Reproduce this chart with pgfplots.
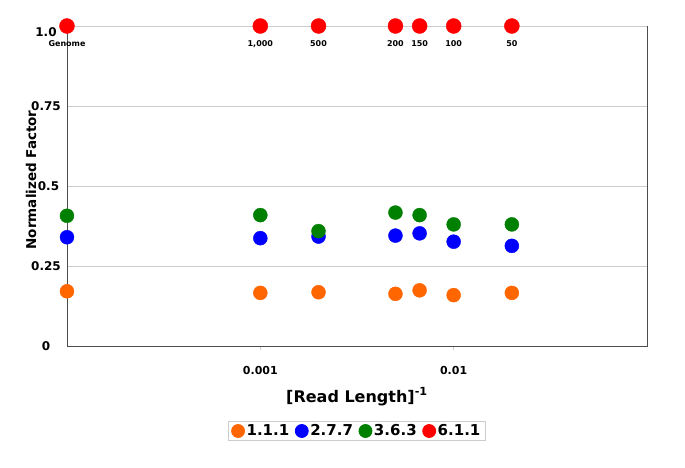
\documentclass[border=0pt]{standalone}
\usepackage{fontspec}
\setmainfont{DejaVu Sans}
\usepackage{pgfplots}
\pgfplotsset{compat=1.18}
\definecolor{cOr}{RGB}{255,102,0}
\definecolor{cBl}{RGB}{0,0,255}
\definecolor{cGr}{RGB}{0,128,0}
\definecolor{cRd}{RGB}{255,0,0}
\begin{document}
\begin{tikzpicture}[x=1pt,y=1pt]
\useasboundingbox (0,0) rectangle (685,467);
\begin{axis}[
  at={(67pt,121pt)}, anchor=south west,
  scale only axis, width=580pt, height=320pt,
  xmode=log, xmin=1e-4, xmax=1e-1, ymin=0, ymax=1,
  clip=false,
  xtick={0.001,0.01}, xticklabels={0.001,0.01},
  xminorticks=false,
  ytick={0,0.25,0.5,0.75}, yticklabels={0,0.25,\hspace{5pt}0.5,0.75},
  extra y ticks={1}, extra y tick labels={1.0},
  extra y tick style={yticklabel style={yshift=-6pt}, ytick style={draw=none}},
  ymajorgrids, grid style={draw=black!20, line width=0.8pt},
  axis line style={draw=black!70, line width=0.8pt},
  tick align=outside, major tick length=4pt,
  xtick style={draw=black!20, line width=0.8pt},
  ytick style={draw=none},
  xticklabel style={anchor=center, yshift=-20pt, font=\bfseries\fontsize{11}{11}\selectfont},
  yticklabel style={anchor=center, xshift=-17pt, font=\bfseries\fontsize{12}{12}\selectfont},
  xlabel={[Read Length]\textsuperscript{-1}},
  xlabel style={at={(axis description cs:0.5,0)}, anchor=base, yshift=-56pt, font=\bfseries\fontsize{16}{16}\selectfont},
  ylabel={Normalized Factor},
  ylabel style={at={(axis description cs:-0.062,0.519)}, anchor=center, font=\bfseries\fontsize{13.5}{13.5}\selectfont},
  legend columns=4,
  legend style={at={(0.5,-0.2656)}, anchor=center, draw=black!20, line width=0.8pt,
    font=\bfseries\fontsize{15}{15}\selectfont,
    inner xsep=3pt, inner ysep=2pt,
    nodes={inner xsep=2pt, inner ysep=1pt},
    /tikz/every even column/.append style={column sep=4pt}},
  legend image code/.code={\draw[#1, mark size=6.5pt] plot coordinates {(0pt,0pt)};},
]
\addplot[cOr, only marks, mark=*, mark size=7pt] coordinates {
(0.0001,0.171) (0.001,0.166) (0.002,0.168) (0.005,0.163) (0.006667,0.174) (0.01,0.159) (0.02,0.166)};
\addlegendentry{1.1.1}
\addplot[cBl, only marks, mark=*, mark size=7pt] coordinates {
(0.0001,0.340) (0.001,0.337) (0.002,0.342) (0.005,0.345) (0.006667,0.352) (0.01,0.326) (0.02,0.313)};
\addlegendentry{2.7.7}
\addplot[cGr, only marks, mark=*, mark size=7pt] coordinates {
(0.0001,0.407) (0.001,0.409) (0.002,0.359) (0.005,0.417) (0.006667,0.409) (0.01,0.380) (0.02,0.380)};
\addlegendentry{3.6.3}
\addplot[cRd, only marks, mark=*, mark size=7.5pt,
  nodes near coords, point meta=explicit symbolic,
  every node near coord/.append style={anchor=center, yshift=-18pt, text=black, font=\bfseries\fontsize{8}{8}\selectfont}]
  table[x=x, y=y, meta=lab] {
x y lab
0.0001 1 Genome
0.001 1 1,000
0.002 1 500
0.005 1 200
0.006667 1 150
0.01 1 100
0.02 1 50
};
\addlegendentry{6.1.1}
\end{axis}
\end{tikzpicture}
\end{document}
